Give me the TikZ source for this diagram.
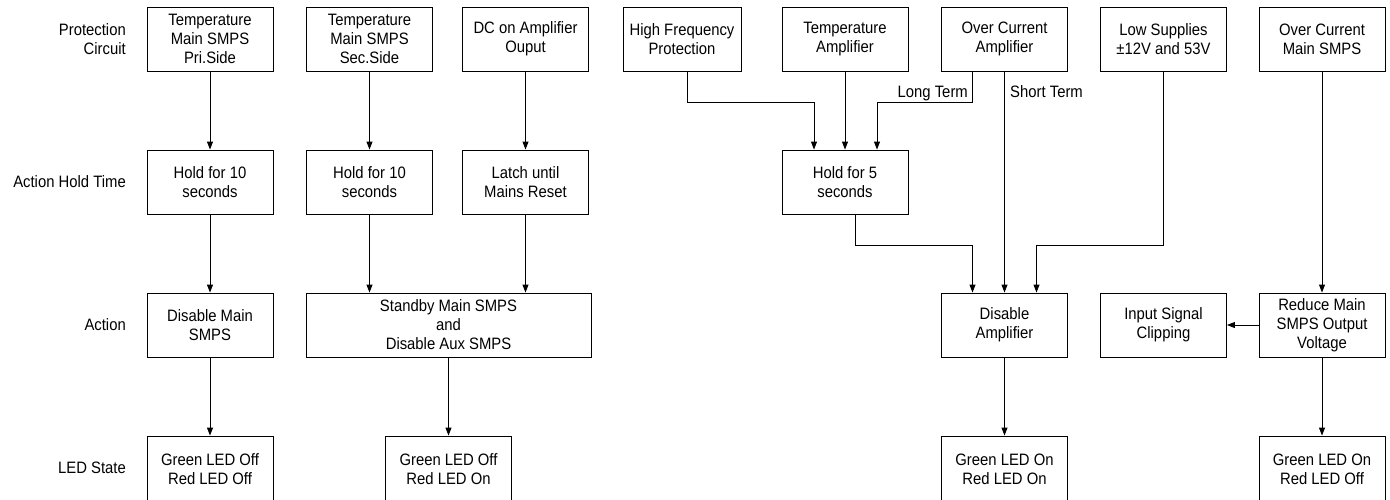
\documentclass[tikz,border=0pt]{standalone}
\usepackage{fontspec}
\setmainfont{Liberation Sans}[FakeStretch=0.9]
\usetikzlibrary{arrows.meta}
\tikzset{
  blk/.style={draw, line width=0.9pt, minimum width=126pt, minimum height=64pt, align=center, inner sep=0pt},
  arr/.style={line width=0.9pt, -{Triangle[length=8pt,width=6pt]}},
  rowlbl/.style={anchor=east, align=right, inner sep=0pt},
  termlbl/.style={inner sep=0pt}
}
\begin{document}
\begin{tikzpicture}[x=1pt, y=-1pt, font=\fontsize{16.5}{19}\selectfont]
\useasboundingbox (0,0) rectangle (1390,499);
% row labels
\node[rowlbl] (lblprot) at (126,39) {Protection\\Circuit};
\node[rowlbl] (lblhold) at (126,182) {Action Hold Time};
\node[rowlbl] (lblact) at (126,325) {Action};
\node[rowlbl] (lblled) at (126,468) {LED State};
% protection circuits
\node[blk] (pri) at (210,39) {Temperature\\Main SMPS\\Pri.Side};
\node[blk] (sec) at (369.5,39) {Temperature\\Main SMPS\\Sec.Side};
\node[blk] (dcout) at (525.5,39) {DC on Amplifier\\Ouput};
\node[blk, minimum width=118pt] (hifreq) at (682,39) {High Frequency\\Protection};
\node[blk] (tamp) at (845,39) {Temperature\\Amplifier};
\node[blk] (ocamp) at (1004.5,39) {Over Current\\Amplifier};
\node[blk] (lowsup) at (1163.5,39) {Low Supplies\\±12V and 53V};
\node[blk] (ocsmps) at (1322,39) {Over Current\\Main SMPS};
% hold time
\node[blk] (holdpri) at (210,182) {Hold for 10\\seconds};
\node[blk] (holdsec) at (369.5,182) {Hold for 10\\seconds};
\node[blk] (latch) at (525.5,182) {Latch until\\Mains Reset};
\node[blk] (holdamp) at (845,182) {Hold for 5\\seconds};
% action
\node[blk] (dismain) at (210,325) {Disable Main\\SMPS};
\node[blk, minimum width=285pt] (standby) at (448.5,325) {Standby Main SMPS\\and\\Disable Aux SMPS};
\node[blk] (disamp) at (1004.5,325) {Disable\\Amplifier};
\node[blk] (clip) at (1163.5,325) {Input Signal\\Clipping};
\node[blk] (reduce) at (1322,325) {Reduce Main\\SMPS Output\\Voltage};
% led state
\node[blk, minimum height=66pt] (ledmain) at (210,469) {Green LED Off\\Red LED Off};
\node[blk, minimum height=66pt] (ledstby) at (448.5,469) {Green LED Off\\Red LED On};
\node[blk, minimum height=66pt] (ledamp) at (1004.5,469) {Green LED On\\Red LED On};
\node[blk, minimum height=66pt] (ledsmps) at (1322,469) {Green LED On\\Red LED Off};
% helper points
\coordinate (upper) at (0,102);
\coordinate (lower) at (0,245);
\coordinate (hfout) at ([xshift=5pt]hifreq.south);
\coordinate (ltout) at ([xshift=-32pt]ocamp.south);
\coordinate (h5in1) at ([xshift=-31pt]holdamp.north);
\coordinate (h5in3) at ([xshift=32pt]holdamp.north);
\coordinate (h5out) at ([xshift=10pt]holdamp.south);
\coordinate (dain1) at ([xshift=-32pt]disamp.north);
\coordinate (dain3) at ([xshift=32pt]disamp.north);
% connectors
\draw[arr] (pri) -- (holdpri);
\draw[arr] (holdpri) -- (dismain);
\draw[arr] (dismain) -- (ledmain);
\draw[arr] (sec) -- (holdsec);
\draw[arr] (holdsec) -- (holdsec |- standby.north);
\draw[arr] (dcout) -- (latch);
\draw[arr] (latch) -- (latch |- standby.north);
\draw[arr] (standby) -- (ledstby);
\draw[arr] (hfout) |- (upper -| h5in1) -- (h5in1);
\draw[arr] (tamp) -- (holdamp);
\draw[arr] (ltout) |- (upper -| h5in3) -- (h5in3);
\draw[arr] (ocamp) -- (disamp);
\draw[arr] (h5out) |- (lower -| dain1) -- (dain1);
\draw[arr] (lowsup.south) |- (lower -| dain3) -- (dain3);
\draw[arr] (disamp) -- (ledamp);
\draw[arr] (ocsmps) -- (reduce);
\draw[arr] (reduce) -- (clip);
\draw[arr] (reduce) -- (ledsmps);
\node[termlbl, anchor=base east] (longterm) at (968,97) {Long Term};
\node[termlbl, anchor=base west] (shortterm) at (1010,97) {Short Term};
\end{tikzpicture}
\end{document}
